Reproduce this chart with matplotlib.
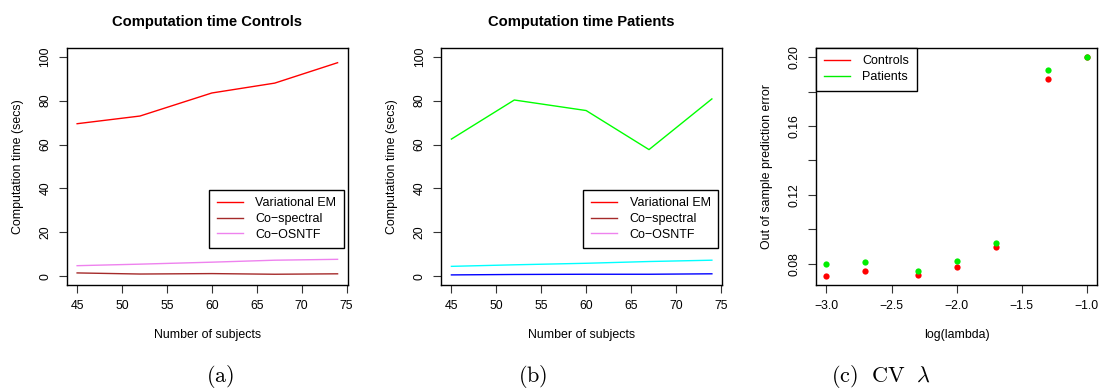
import numpy as np
import matplotlib
matplotlib.use('Agg')
import matplotlib.pyplot as plt

plt.rcParams['font.family'] = ['Liberation Sans', 'DejaVu Sans']
plt.rcParams['mathtext.fontset'] = 'cm'

# data
subjects = [45, 52, 60, 67, 74]
ctrl_vem = [69.5, 73.0, 83.5, 88.0, 97.3]
ctrl_cospec = [1.5, 1.0, 1.2, 0.9, 1.1]
ctrl_osntf = [4.8, 5.5, 6.4, 7.3, 7.7]

pat_vem = [62.5, 80.3, 75.5, 57.7, 80.8]
pat_cospec = [0.6, 0.8, 0.9, 0.9, 1.1]
pat_osntf = [4.5, 5.2, 5.9, 6.7, 7.3]

log_lambda = [-3.0, -2.7, -2.3, -2.0, -1.7, -1.3, -1.0]
cv_controls = [0.0730, 0.0759, 0.0734, 0.0778, 0.0897, 0.1874, 0.2000]
cv_patients = [0.0796, 0.0811, 0.0757, 0.0817, 0.0923, 0.1926, 0.2000]

legend_names = ['Variational EM', 'Co\u2212spectral', 'Co\u2212OSNTF']
legend_cols = ['#FF0000', '#A52A2A', '#EE82EE']

TICK = 8.8
LAB = 8.9
LEG = 9.0

W, H = 1101, 390
fig = plt.figure(figsize=(W / 100, H / 100), dpi=100)

def make_ax(left, right, top=48, bottom=285):
    return fig.add_axes([left / W, 1 - bottom / H, (right - left) / W, (bottom - top) / H])

def style(ax):
    for s in ax.spines.values():
        s.set_linewidth(1.0)
        s.set_color('black')
    ax.tick_params(direction='out', length=5.5, width=0.8, labelsize=TICK, pad=5.5, color='#333333')
    for lab in ax.get_yticklabels():
        lab.set_rotation(90)
        lab.set_va('center')

def add_legend(ax, handles, names, **kw):
    leg = ax.legend(handles, names, borderaxespad=0, fancybox=False, edgecolor='black',
                    framealpha=1, fontsize=LEG, handlelength=2.1, handletextpad=1.0,
                    labelspacing=0.3, borderpad=0.6, **kw)
    leg.get_frame().set_linewidth(1.0)
    return leg

def time_panel(ax, vem, cospec, osntf, cols, title):
    ax.plot(subjects, vem, color=cols[0], lw=1)
    ax.plot(subjects, cospec, color=cols[1], lw=1)
    ax.plot(subjects, osntf, color=cols[2], lw=1)
    ax.set_xlim(43.84, 75.16)
    ax.set_ylim(-4, 104)
    ax.set_xticks([45, 50, 55, 60, 65, 70, 75])
    ax.set_yticks([0, 20, 40, 60, 80, 100])
    ax.set_title(title, fontsize=10.6, fontweight='bold', pad=16)
    ax.set_xlabel('Number of subjects', fontsize=LAB, labelpad=12)
    ax.set_ylabel('Computation time (secs)', fontsize=LAB, labelpad=11)
    handles = [plt.Line2D([], [], color=c, lw=1) for c in legend_cols]
    add_legend(ax, handles, legend_names, loc='lower right', bbox_to_anchor=(0.985, 0.155))
    style(ax)

ax1 = make_ax(66.7, 348)
time_panel(ax1, ctrl_vem, ctrl_cospec, ctrl_osntf, ['#FF0000', '#A52A2A', '#EE82EE'],
           'Computation time Controls')

ax2 = make_ax(441, 722.3)
time_panel(ax2, pat_vem, pat_cospec, pat_osntf, ['#00FF00', '#0000FF', '#00FFFF'],
           'Computation time Patients')

ax3 = make_ax(816, 1097.3)
ax3.plot(log_lambda, cv_controls, 'o', color='#FF0000', ms=4.5, mec='none')
ax3.plot(log_lambda, cv_patients, 'o', color='#00EE00', ms=4.5, mec='none')
ax3.set_xlim(-3.08, -0.92)
ax3.set_ylim(0.0676, 0.2054)
ax3.set_xticks([-3.0, -2.5, -2.0, -1.5, -1.0])
ax3.set_xticklabels(['\u22123.0', '\u22122.5', '\u22122.0', '\u22121.5', '\u22121.0'])
ax3.set_yticks([0.08, 0.10, 0.12, 0.14, 0.16, 0.18, 0.20])
ax3.set_yticklabels(['0.08', '', '0.12', '', '0.16', '', '0.20'])
ax3.set_xlabel('log(lambda)', fontsize=LAB, labelpad=12)
ax3.set_ylabel('Out of sample prediction error', fontsize=LAB, labelpad=11)
h3 = [plt.Line2D([], [], color='#FF0000', lw=1), plt.Line2D([], [], color='#00EE00', lw=1)]
add_legend(ax3, h3, ['Controls', 'Patients'], loc='upper left', bbox_to_anchor=(0, 1))
style(ax3)

# subfigure captions
fig.text(220 / W, 1 - 377 / H, r'$\mathrm{(a)}$', ha='center', va='center', fontsize=16)
fig.text(533 / W, 1 - 377 / H, r'$\mathrm{(b)}$', ha='center', va='center', fontsize=16)
fig.text(881 / W, 1 - 377 / H, r'$\mathrm{(c)\ \ CV}\ \ \lambda$', ha='center', va='center', fontsize=16)

fig.savefig('out.png', dpi=100)
